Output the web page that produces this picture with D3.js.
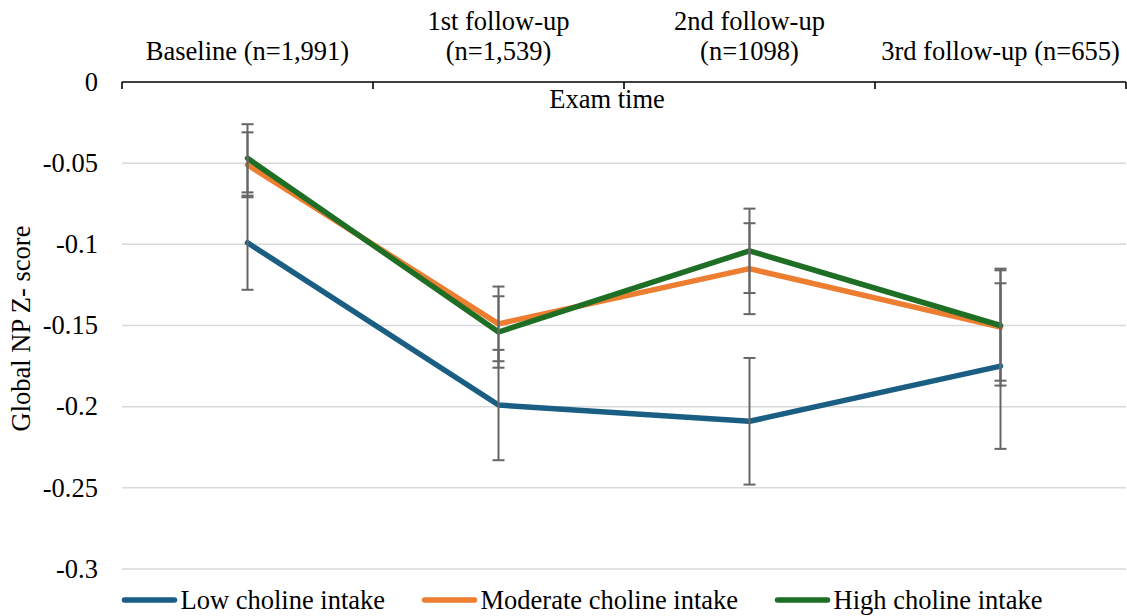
<!DOCTYPE html>
<html>
<head>
<meta charset="utf-8">
<script src="https://cdn.jsdelivr.net/npm/d3@7"></script>
<style>
  html, body { margin: 0; padding: 0; background: #fff; }
</style>
</head>
<body>
<svg id="chart" width="1127" height="616"></svg>
<script>
// ---- data ----
const categories = [
  ["Baseline (n=1,991)"],
  ["1st follow-up", "(n=1,539)"],
  ["2nd follow-up", "(n=1098)"],
  ["3rd follow-up (n=655)"]
];
const seriesNames = ["Low choline intake", "Moderate choline intake", "High choline intake"];
const lowValues = [-0.099, -0.199, -0.209, -0.175];
const lowErrors = [0.029, 0.034, 0.039, 0.051];
const moderateValues = [-0.051, -0.149, -0.115, -0.151];
const moderateErrors = [0.020, 0.023, 0.028, 0.036];
const highValues = [-0.047, -0.154, -0.104, -0.150];
const highErrors = [0.021, 0.022, 0.026, 0.034];
const yTicks = [0, -0.05, -0.1, -0.15, -0.2, -0.25, -0.3];
const yTickLabels = ["0", "-0.05", "-0.1", "-0.15", "-0.2", "-0.25", "-0.3"];
const colors = ["#1a5e83", "#ed7d31", "#1e6f25"];

const series = [
  { name: seriesNames[0], values: lowValues, errors: lowErrors, color: colors[0] },
  { name: seriesNames[1], values: moderateValues, errors: moderateErrors, color: colors[1] },
  { name: seriesNames[2], values: highValues, errors: highErrors, color: colors[2] }
];

const FONT = "'Liberation Serif', 'Times New Roman', Tinos, 'DejaVu Serif', serif";
const svg = d3.select("#chart")
  .attr("font-family", FONT)
  .style("font-family", FONT);
const FS = 26.5;

const plot = { left: 122, right: 1126, top: 82, bottom: 569 };

const x = d3.scaleBand()
  .domain(d3.range(categories.length))
  .range([plot.left, plot.right])
  .padding(0);
const y = d3.scaleLinear().domain([-0.3, 0]).range([plot.bottom, plot.top]);

function txt(sel) {
  return sel.attr("font-family", FONT).style("font-family", FONT).attr("fill", "#000");
}

// gridlines
svg.append("g")
  .selectAll("line")
  .data(yTicks.filter(t => t !== 0))
  .join("line")
  .attr("x1", plot.left).attr("x2", plot.right)
  .attr("y1", d => y(d)).attr("y2", d => y(d))
  .attr("stroke", "#d9d9d9").attr("stroke-width", 1.5);

// y tick labels
txt(svg.append("g")
  .selectAll("text")
  .data(yTicks)
  .join("text"))
  .attr("x", 98)
  .attr("y", d => y(d))
  .attr("dy", "0.33em")
  .attr("text-anchor", "end")
  .attr("font-size", FS)
  .text((d, i) => yTickLabels[i]);

// x axis at 0 (top), ticks pointing down
const xAxisG = svg.append("g");
xAxisG.append("line")
  .attr("x1", plot.left).attr("x2", plot.right)
  .attr("y1", y(0)).attr("y2", y(0))
  .attr("stroke", "#000").attr("stroke-width", 1.6);
const bounds = d3.range(categories.length).map(i => x(i)).concat([x(categories.length - 1) + x.bandwidth()]);
xAxisG.selectAll("line.tick")
  .data(bounds)
  .join("line")
  .attr("class", "tick")
  .attr("x1", d => d).attr("x2", d => d)
  .attr("y1", y(0)).attr("y2", y(0) + 7)
  .attr("stroke", "#000").attr("stroke-width", 1.6);

// category labels above axis
categories.forEach((lines, i) => {
  const cx = x(i) + x.bandwidth() / 2;
  const n = lines.length;
  lines.forEach((ln, j) => {
    txt(svg.append("text"))
      .attr("x", cx)
      .attr("y", 60 - (n - 1 - j) * 30)
      .attr("text-anchor", "middle")
      .attr("font-size", FS)
      .text(ln);
  });
});

// axis title
txt(svg.append("text"))
  .attr("x", 607).attr("y", 108)
  .attr("text-anchor", "middle")
  .attr("font-size", FS)
  .text("Exam time");

txt(svg.append("text"))
  .attr("transform", `translate(30, ${(plot.top + plot.bottom) / 2 + 3}) rotate(-90)`)
  .attr("text-anchor", "middle")
  .attr("font-size", FS)
  .text("Global NP Z- score");

// lines
const line = d3.line()
  .x((d, i) => x(i) + x.bandwidth() / 2)
  .y(d => y(d));

series.forEach(s => {
  svg.append("path")
    .datum(s.values)
    .attr("d", line)
    .attr("fill", "none")
    .attr("stroke", s.color)
    .attr("stroke-width", 5.5)
    .attr("stroke-linejoin", "round")
    .attr("stroke-linecap", "round");
});

// error bars
const capHalf = 6;
series.forEach(s => {
  const g = svg.append("g").attr("stroke", "#666").attr("stroke-width", 2);
  s.values.forEach((v, i) => {
    const cx = x(i) + x.bandwidth() / 2;
    const top = y(v + s.errors[i]);
    const bot = y(v - s.errors[i]);
    g.append("line").attr("x1", cx).attr("x2", cx).attr("y1", top).attr("y2", bot);
    g.append("line").attr("x1", cx - capHalf).attr("x2", cx + capHalf).attr("y1", top).attr("y2", top);
    g.append("line").attr("x1", cx - capHalf).attr("x2", cx + capHalf).attr("y1", bot).attr("y2", bot);
  });
});

// legend
const legendX = [122, 422, 775];
const legendY = 600;
series.forEach((s, i) => {
  const lx = legendX[i];
  svg.append("line")
    .attr("x1", lx + 2.5).attr("x2", lx + 52.5)
    .attr("y1", legendY).attr("y2", legendY)
    .attr("stroke", s.color).attr("stroke-width", 5.5)
    .attr("stroke-linecap", "round");
  txt(svg.append("text"))
    .attr("x", lx + 58.5).attr("y", legendY)
    .attr("dy", "0.33em")
    .attr("font-size", FS)
    .text(s.name);
});
</script>
</body>
</html>
